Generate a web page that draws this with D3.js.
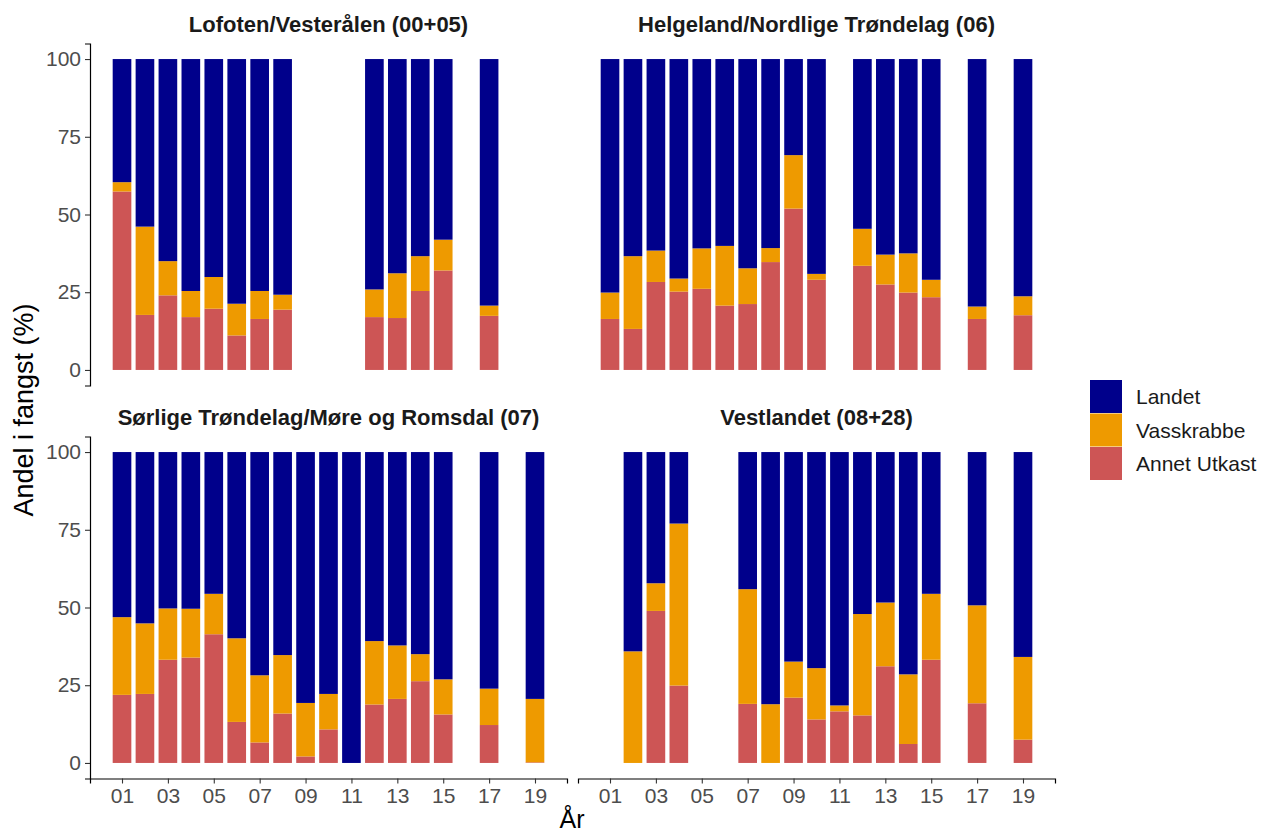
<!DOCTYPE html>
<html>
<head>
<meta charset="utf-8">
<script src="https://cdn.jsdelivr.net/npm/d3@7"></script>
<style>
body { margin: 0; background: #fff; }
text { font-family: "Liberation Sans", Arial, sans-serif; }
</style>
</head>
<body>
<div id="chart"></div>
<script>
// shares (%) per year
var lofotenYears  = [1,2,3,4,5,6,7,8,12,13,14,15,17];
var lofotenAnnet  = [57.4,17.7,24.0,17.0,19.7,11.1,16.4,19.4,17.0,16.7,25.4,32.0,17.4];
var lofotenVass   = [3.0,28.4,11.0,8.4,10.2,10.2,9.0,4.8,8.9,14.4,11.2,9.9,3.3];
var lofotenLandet = [39.6,53.9,65.0,74.6,70.1,78.7,74.6,75.8,74.1,68.9,63.4,58.1,79.3];

var helgYears  = [1,2,3,4,5,6,7,8,9,10,12,13,14,15,17,19];
var helgAnnet  = [16.4,13.2,28.3,25.2,26.1,20.7,21.2,34.7,51.9,29.0,33.5,27.5,24.9,23.4,16.4,17.6];
var helgVass   = [8.5,23.4,10.1,4.2,13.0,19.2,11.5,4.5,17.2,1.9,11.9,9.6,12.6,5.6,4.0,6.1];
var helgLandet = [75.1,63.4,61.6,70.6,60.9,60.1,67.3,60.8,30.9,69.1,54.6,62.9,62.5,71.0,79.6,76.3];

var sorYears  = [1,2,3,4,5,6,7,8,9,10,11,12,13,14,15,17,19];
var sorAnnet  = [21.9,22.2,33.2,33.9,41.4,13.2,6.6,15.9,2.1,10.8,0,18.8,20.6,26.3,15.6,12.2,0.2];
var sorVass   = [25.0,22.7,16.5,15.7,13.0,26.9,21.6,18.8,17.2,11.4,0,20.4,17.2,8.7,11.3,11.7,20.4];
var sorLandet = [53.1,55.1,50.3,50.4,45.6,59.9,71.8,65.3,80.7,77.8,100,60.8,62.2,65.0,73.1,76.1,79.4];

var vestYears  = [2,3,4,7,8,9,10,11,12,13,14,15,17,19];
var vestAnnet  = [0,48.9,24.9,19.0,0,21.0,14.0,16.6,15.3,31.1,6.1,33.2,19.2,7.5];
var vestVass   = [35.9,8.9,52.1,36.9,18.9,11.6,16.5,1.9,32.6,20.5,22.4,21.2,31.5,26.6];
var vestLandet = [64.1,42.2,23.0,44.1,81.1,67.4,69.5,81.5,52.1,48.4,71.5,45.6,49.3,65.9];

var panelTitles = ["Lofoten/Vesterålen (00+05)", "Helgeland/Nordlige Trøndelag (06)",
                   "Sørlige Trøndelag/Møre og Romsdal (07)", "Vestlandet (08+28)"];
var seriesNames = ["Landet", "Vasskrabbe", "Annet Utkast"];
var seriesColors = ["#00008B", "#EE9A00", "#CD5555"];
var xTicks = [1,3,5,7,9,11,13,15,17,19];
var yTicks = [0,25,50,75,100];

function rows(years, annet, vass, landet) {
    return years.map(function(y, i) {
        return { year: y, annet: annet[i], vass: vass[i], landet: landet[i] };
    });
}

var panels = [
    { title: panelTitles[0], data: rows(lofotenYears, lofotenAnnet, lofotenVass, lofotenLandet), col: 0, row: 0 },
    { title: panelTitles[1], data: rows(helgYears, helgAnnet, helgVass, helgLandet), col: 1, row: 0 },
    { title: panelTitles[2], data: rows(sorYears, sorAnnet, sorVass, sorLandet), col: 0, row: 1 },
    { title: panelTitles[3], data: rows(vestYears, vestAnnet, vestVass, vestLandet), col: 1, row: 1 }
];

var W = 1267, H = 834;
var panelW = 477, panelH = 342;
var colX = [90, 578], rowY = [43.5, 436.5];

var svg = d3.select("#chart").append("svg")
    .attr("width", W).attr("height", H);

var x = d3.scaleLinear().domain([-0.395, 20.395]).range([0, panelW]);
var y = d3.scaleLinear().domain([-5, 105]).range([panelH, 0]);
var barW = x(0.9) - x(0);

var keys = ["annet", "vass", "landet"];
var keyColor = { annet: seriesColors[2], vass: seriesColors[1], landet: seriesColors[0] };
var stack = d3.stack().keys(keys);

panels.forEach(function(p) {
    var g = svg.append("g")
        .attr("transform", "translate(" + colX[p.col] + "," + rowY[p.row] + ")");

    var layers = stack(p.data);
    g.selectAll(".layer")
        .data(layers)
        .enter().append("g")
        .attr("fill", function(d) { return keyColor[d.key]; })
        .selectAll("rect")
        .data(function(d) { return d; })
        .enter().append("rect")
        .attr("x", function(d) { return x(d.data.year) - barW / 2 + 1; })
        .attr("width", barW - 2)
        .attr("y", function(d) { return y(d[1]); })
        .attr("height", function(d) { return Math.max(0, y(d[0]) - y(d[1])); });

    // facet title
    g.append("text")
        .attr("x", panelW / 2)
        .attr("y", -11.5)
        .attr("text-anchor", "middle")
        .style("font-size", "22px")
        .style("font-weight", "bold")
        .attr("fill", "#1a1a1a")
        .text(p.title);

    if (p.col == 0) {
        var ya = g.append("g")
            .call(d3.axisLeft(y).tickValues(yTicks).tickSize(5).tickPadding(4));
        ya.selectAll("text").style("font-size", "21px").attr("fill", "#4d4d4d");
    }
    if (p.row == 1) {
        var xa = g.append("g")
            .attr("transform", "translate(0," + panelH + ")")
            .call(d3.axisBottom(x).tickValues(xTicks).tickSize(5).tickPadding(5)
                .tickFormat(function(d) { return d3.format("02d")(d); }));
        xa.selectAll("text").style("font-size", "21px").attr("fill", "#4d4d4d");
    }
});

svg.selectAll(".domain").attr("stroke", "#000").attr("stroke-width", 1.2);
svg.selectAll(".tick line").attr("stroke", "#333").attr("stroke-width", 1.1);

// axis titles
svg.append("text")
    .attr("transform", "translate(33,410) rotate(-90)")
    .attr("text-anchor", "middle")
    .style("font-size", "27px")
    .text("Andel i fangst (%)");

svg.append("text")
    .attr("x", 572)
    .attr("y", 828)
    .attr("text-anchor", "middle")
    .style("font-size", "25px")
    .text("År");

// legend
var legend = svg.append("g").attr("transform", "translate(1090,380)");
seriesNames.forEach(function(name, i) {
    legend.append("rect")
        .attr("x", 0).attr("y", i * 33.5)
        .attr("width", 32).attr("height", 33)
        .attr("fill", seriesColors[i]);
    legend.append("text")
        .attr("x", 46).attr("y", i * 33.5 + 17)
        .attr("dy", "0.35em")
        .style("font-size", "21px")
        .attr("fill", "#1a1a1a")
        .text(name);
});
</script>
</body>
</html>
